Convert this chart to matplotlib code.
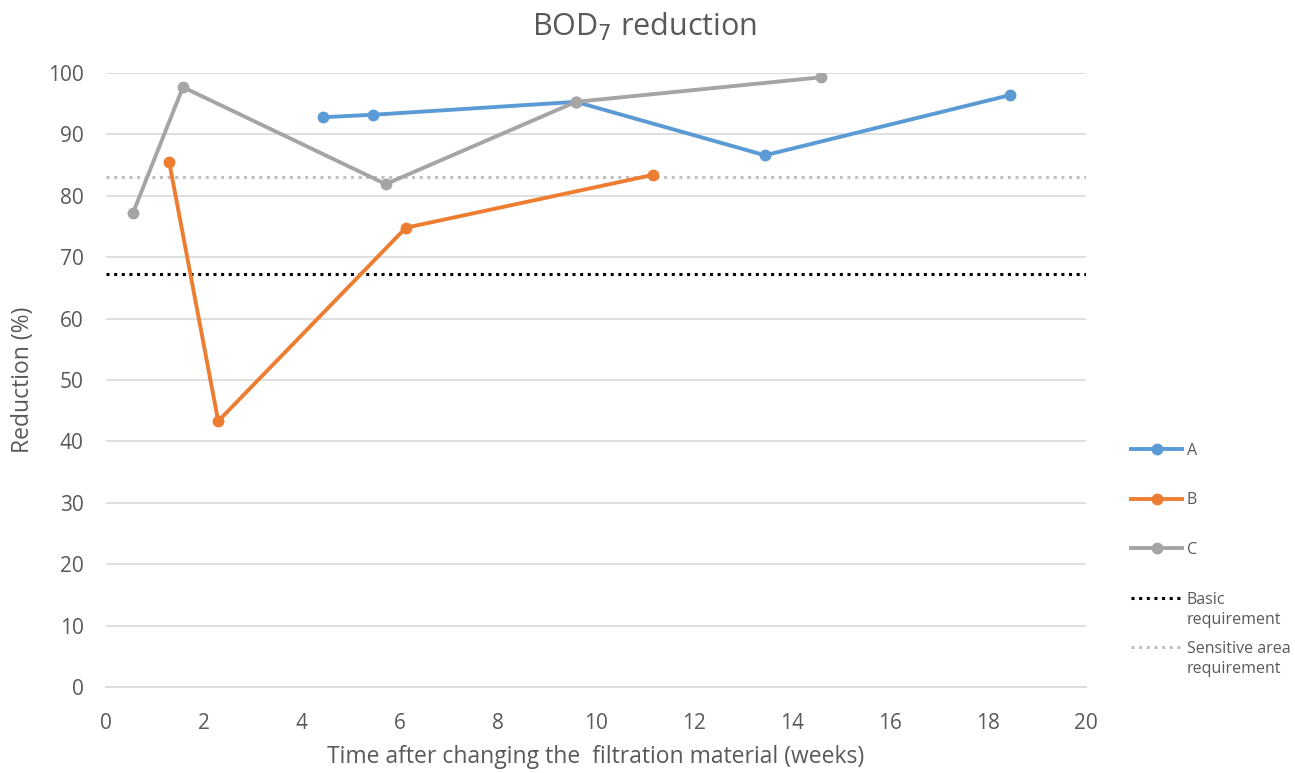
import matplotlib
matplotlib.use("Agg")
import matplotlib.pyplot as plt
from matplotlib.lines import Line2D

plt.rcParams['font.family'] = ['Open Sans', 'DejaVu Sans']

# Data
a_x = [4.43, 5.45, 9.59, 13.45, 18.45]
a_y = [92.8, 93.2, 95.3, 86.6, 96.4]
b_x = [1.29, 2.29, 6.12, 11.16]
b_y = [85.5, 43.3, 74.8, 83.4]
c_x = [0.55, 1.57, 5.71, 9.59, 14.59]
c_y = [77.2, 97.7, 81.9, 95.3, 99.3]
basic_req = 67.2
sensitive_req = 83.0
x_ticks = list(range(0, 21, 2))
y_ticks = list(range(0, 101, 10))

col_a = '#5B9BD5'
col_b = '#ED7D31'
col_c = '#A5A5A5'
txt = '#595959'

W, H = 1295, 773
fig = plt.figure(figsize=(W/100, H/100), dpi=100)
ax = fig.add_axes([106/W, 1-687/H, (1086-106)/W, (687-73)/H])

dot = (0, (1, 1.5))
ax.axhline(basic_req, color='black', linestyle=dot, linewidth=2.2, zorder=2)
ax.axhline(sensitive_req, color='#BFBFBF', linestyle=dot, linewidth=2.2, zorder=2)

lw = 2.8
ms = 7.5
ax.plot(a_x, a_y, color=col_a, lw=lw, marker='o', ms=ms, zorder=3)
ax.plot(b_x, b_y, color=col_b, lw=lw, marker='o', ms=ms, zorder=3)
ax.plot(c_x, c_y, color=col_c, lw=lw, marker='o', ms=ms, zorder=3)

ax.set_xlim(0, 20)
ax.set_ylim(0, 100)
ax.set_xticks(x_ticks)
ax.set_yticks(y_ticks)
ax.grid(axis='y', color='#D9D9D9', linewidth=1.2)
ax.set_axisbelow(True)
for s in ['top', 'right', 'left']:
    ax.spines[s].set_visible(False)
ax.spines['bottom'].set_color('#D9D9D9')
ax.spines['bottom'].set_linewidth(1.2)
ax.tick_params(axis='both', length=0, colors=txt, labelsize=15)
ax.tick_params(axis='x', pad=19)
ax.tick_params(axis='y', pad=16)

fig.text(644/W, 1-27/H, 'BOD$_7$ reduction', fontsize=22, color=txt, ha='center', va='center')
ax.set_xlabel('Time after changing the  filtration material (weeks)', fontsize=16.5, color=txt)
ax.xaxis.set_label_coords(0.5, (687-745)/614)
ax.set_ylabel('Reduction (%)', fontsize=16.5, color=txt)
ax.yaxis.set_label_coords((35-106)/980, 0.5)

handles = [
    Line2D([], [], color=col_a, lw=lw, marker='o', ms=ms),
    Line2D([], [], color=col_b, lw=lw, marker='o', ms=ms),
    Line2D([], [], color=col_c, lw=lw, marker='o', ms=ms),
    Line2D([], [], color='black', linestyle=dot, lw=2.2),
    Line2D([], [], color='#BFBFBF', linestyle=dot, lw=2.2),
]
labels = ['A', 'B', 'C', 'Basic', 'Sensitive area']
leg = fig.legend(handles, labels, loc='center left', bbox_to_anchor=(1131/W, 1-550/H),
                 frameon=False, fontsize=11.5, labelspacing=2.1, handlelength=3.2,
                 handletextpad=0.3, borderaxespad=0, borderpad=0)
for t in leg.get_texts():
    t.set_color(txt)

# second line of the two-line legend labels
fig.canvas.draw()
inv = fig.transFigure.inverted()
for t in leg.get_texts()[3:]:
    bb = t.get_window_extent()
    x0, y0 = inv.transform((bb.x0, bb.y0))
    fig.text(x0, y0 - 4/H, 'requirement', fontsize=11.5, color=txt, ha='left', va='top')

fig.savefig('out.png', dpi=100)
